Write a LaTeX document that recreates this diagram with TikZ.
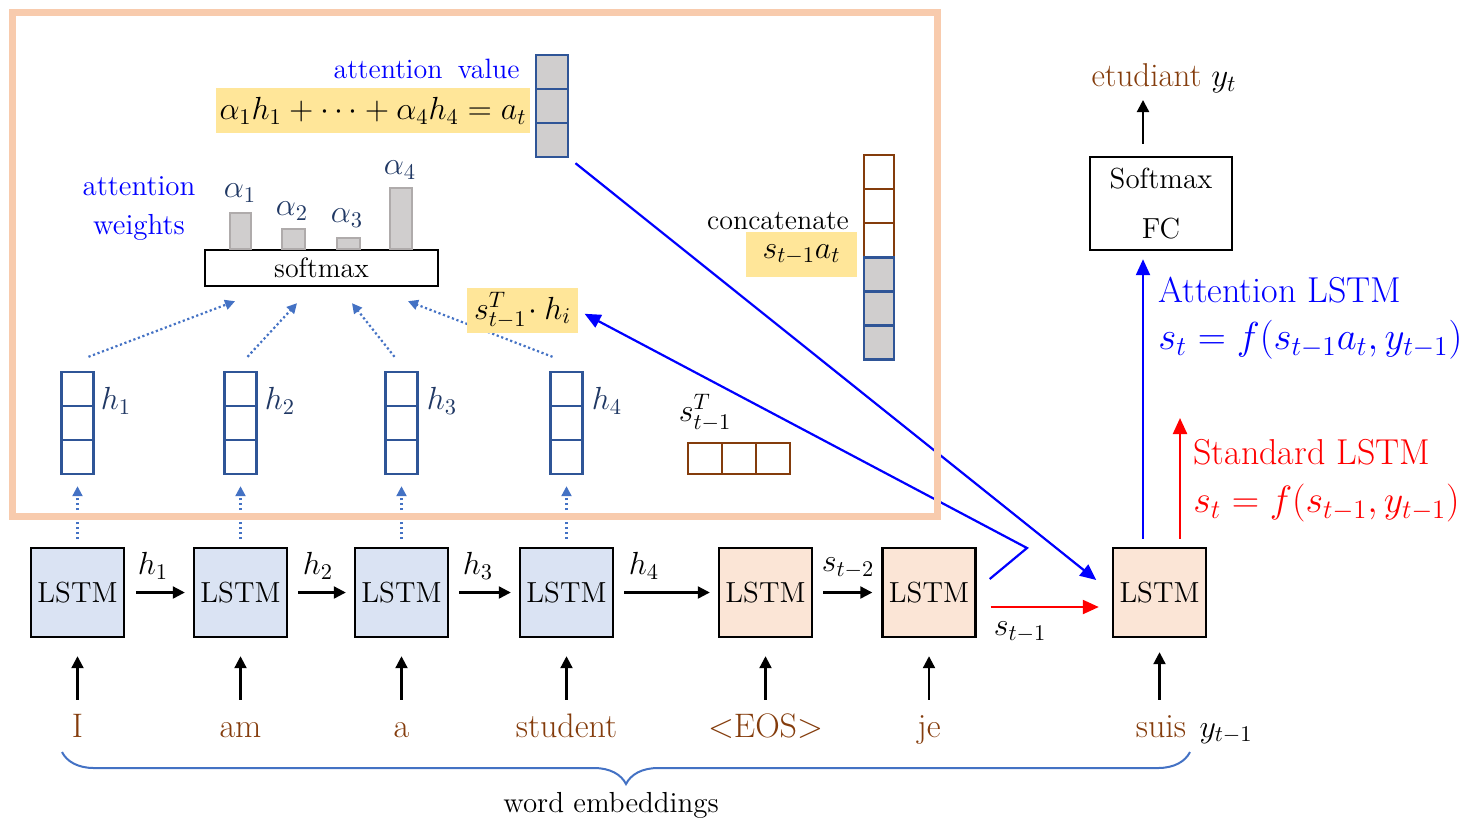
\documentclass[tikz,border=0pt]{standalone}
\usepackage{fix-cm}
\usetikzlibrary{arrows.meta,calc,decorations.pathreplacing}
\definecolor{vblue}{HTML}{2F5597}
\definecolor{dblue}{HTML}{4472C4}
\definecolor{brn}{HTML}{843C0C}
\definecolor{peach}{HTML}{F8CBAD}
\definecolor{lblue}{HTML}{DAE3F3}
\definecolor{lorange}{HTML}{FBE5D6}
\definecolor{gfill}{HTML}{D0CECE}
\definecolor{gline}{HTML}{AFABAB}
\definecolor{ylw}{HTML}{FFE699}
\definecolor{pblue}{HTML}{0000FF}
\definecolor{pred}{HTML}{FF0000}
\definecolor{navy}{HTML}{203864}
\tikzset{
 lstm/.style={draw=black, line width=1.2pt, minimum width=46.5pt, minimum height=44.5pt, inner sep=0pt, font=\fontsize{14.5}{16}\selectfont},
 enc/.style={lstm, fill=lblue},
 dec/.style={lstm, fill=lorange},
 word/.style={text=brn, font=\fontsize{17}{19}\selectfont, text height=15pt, text depth=4pt, inner ysep=3.5pt, anchor=base},
 mlab/.style={font=\fontsize{16}{18}\selectfont, inner sep=1pt},
 txt/.style={font=\fontsize{14}{16}\selectfont, inner sep=1pt},
 arr/.style={-{Triangle[length=6pt,width=6pt]}, line width=1.1pt},
 dotarr/.style={-{Triangle[length=5pt,width=5pt]}, dblue, line width=1.1pt, dash pattern=on 1.1pt off 1.3pt},
 bluearr/.style={-{Triangle[length=8pt,width=7pt]}, pblue, line width=1.1pt},
 redarr/.style={-{Triangle[length=8pt,width=7pt]}, pred, line width=1.1pt},
 ybox/.style={fill=ylw, inner xsep=1pt, inner ysep=1pt, font=\fontsize{16}{18}\selectfont},
 vvec/.style={draw=#1, line width=1.2pt, minimum width=16pt, minimum height=51pt, inner sep=0pt,
   path picture={\draw[#1, line width=1.2pt]
     ($(path picture bounding box.north west)!1/3!(path picture bounding box.south west)$) -- ($(path picture bounding box.north east)!1/3!(path picture bounding box.south east)$)
     ($(path picture bounding box.north west)!2/3!(path picture bounding box.south west)$) -- ($(path picture bounding box.north east)!2/3!(path picture bounding box.south east)$);}},
 hvec/.style={draw=#1, line width=1.2pt, minimum width=51pt, minimum height=15.5pt, inner sep=0pt,
   path picture={\draw[#1, line width=1.2pt]
     ($(path picture bounding box.north west)!1/3!(path picture bounding box.north east)$) -- ($(path picture bounding box.south west)!1/3!(path picture bounding box.south east)$)
     ($(path picture bounding box.north west)!2/3!(path picture bounding box.north east)$) -- ($(path picture bounding box.south west)!2/3!(path picture bounding box.south east)$);}},
 bar/.style={draw=gline, fill=gfill, line width=1pt},
}
\begin{document}
\begin{tikzpicture}[x=0.5pt,y=-0.5pt]
\useasboundingbox (0,0) rectangle (1475,826);

% LSTM cells
\node[enc] (L1) at (77.5,592.5) {LSTM};
\node[enc] (L2) at (240.5,592.5) {LSTM};
\node[enc] (L3) at (401.5,592.5) {LSTM};
\node[enc] (L4) at (566.5,592.5) {LSTM};
\node[dec] (L5) at (765.5,592.5) {LSTM};
\node[dec] (L6) at (929,592.5) {LSTM};
\node[dec] (L7) at (1159.5,592.5) {LSTM};

% words
\node[word] (w1) at (77.5,737) {I};
\node[word] (w2) at (240.5,737) {am};
\node[word] (w3) at (401.5,737) {a};
\node[word] (w4) at (566.5,737) {student};
\node[word] (w5) at (765.5,737) {\textless EOS\textgreater};
\node[word] (w6) at (929,737) {je};
\node[word] (w7) at (1161,737) {suis};
\node[mlab, anchor=base west] (ytm) at ([xshift=2pt]w7.base east) {$y_{t-1}$};

\foreach \w/\l in {w1/L1,w2/L2,w3/L3,w4/L4,w5/L5,w6/L6}
  \draw[arr, shorten >=9pt] (\w) -- (\l);
\draw[arr, shorten >=7pt] (w7.north -| L7.south) -- (L7.south);

% horizontal recurrences
\draw[arr, shorten <=5.5pt, shorten >=4pt] (L1) -- (L2);
\draw[arr, shorten <=5pt, shorten >=4pt] (L2) -- (L3);
\draw[arr, shorten <=5pt, shorten >=4pt] (L3) -- (L4);
\draw[arr, shorten <=5pt, shorten >=4pt] (L4) -- (L5);
\draw[arr, shorten <=5pt, shorten >=4.5pt] (L5) -- (L6);
\node[mlab] (lh1) at (153,566) {$h_1$};
\node[mlab] (lh2) at (318,566) {$h_2$};
\node[mlab] (lh3) at (478,566) {$h_3$};
\node[mlab] (lh4) at (644,566) {$h_4$};
\node[mlab] (lst2) at (848,568) {$s_{t-2}$};
\draw[redarr, shorten <=7pt, shorten >=6.5pt] ([yshift=-7.25pt]L6.east) -- ([yshift=-7.25pt]L7.west);
\node[mlab] (lst1) at (1020,632) {$s_{t-1}$};

% brace
\coordinate (bl) at (62,752);
\coordinate (br) at (1190,752);
\draw[dblue, line width=1pt, decorate, decoration={brace, mirror, amplitude=16pt, aspect=0.5}] (bl) -- (br);
\node[font=\fontsize{14.5}{16}\selectfont] (we) at (611,805) {word embeddings};

% hidden vectors
\node[vvec=vblue] (hv1) at (77.5,423) {};
\node[vvec=vblue] (hv2) at (240.5,423) {};
\node[vvec=vblue] (hv3) at (401.5,423) {};
\node[vvec=vblue] (hv4) at (566.5,423) {};
\node[mlab, text=navy] (hl1) at (116,401) {$h_1$};
\node[mlab, text=navy] (hl2) at (280,401) {$h_2$};
\node[mlab, text=navy] (hl3) at (442,401) {$h_3$};
\node[mlab, text=navy] (hl4) at (607,401) {$h_4$};
\foreach \i in {1,2,3,4}
  \draw[dotarr, shorten <=4pt, shorten >=5.5pt] (L\i) -- (hv\i);

% softmax and weights
\node[draw, line width=1.2pt, minimum width=116.5pt, minimum height=18pt, inner sep=0pt, font=\fontsize{14}{16}\selectfont] (sm) at (321.5,268) {softmax};
\draw[dotarr] ([shift={(5.5pt,7pt)}]hv1.north) -- ([shift={(-43.25pt,-7pt)}]sm.south);
\draw[dotarr] ([shift={(3.5pt,7pt)}]hv2.north) -- ([shift={(-12.25pt,-8pt)}]sm.south);
\draw[dotarr] ([shift={(-3.5pt,7pt)}]hv3.north) -- ([shift={(15.25pt,-8pt)}]sm.south);
\draw[dotarr] ([shift={(-7pt,7pt)}]hv4.north) -- ([shift={(43.25pt,-7pt)}]sm.south);

\draw[bar] (230,249) rectangle (251,213);
\draw[bar] (282,249) rectangle (305,229);
\draw[bar] (337,249) rectangle (360,238);
\draw[bar] (390,249) rectangle (412,188);
\node[mlab, text=navy] (a1) at (240,193) {$\alpha_1$};
\node[mlab, text=navy] (a2) at (292,211) {$\alpha_2$};
\node[mlab, text=navy] (a3) at (347,218) {$\alpha_3$};
\node[mlab, text=navy] (a4) at (400,170) {$\alpha_4$};
\node[align=center, text=pblue, font=\fontsize{14.5}{19.5}\selectfont] (aw) at (139,208) {attention\\weights};

% attention value
\node[txt, text=pblue, anchor=base east] (avl) at (522,78) {attention\hspace{0.55em}value};
\node[ybox, minimum width=157pt, minimum height=22.5pt] (form) at (373,110.5) {$\alpha_1 h_1 + \cdots + \alpha_4 h_4 = a_t$};
\node[vvec=vblue, fill=gfill] (av) at (552,106) {};

% score
\node[ybox, minimum width=55.5pt, minimum height=22.5pt] (dot) at (522.5,310.5) {$s_{t-1}^T\!\cdot h_i$};

% concatenate
\node[txt] (cattxt) at (778,221) {concatenate};
\node[ybox, minimum width=55.5pt, minimum height=22.5pt] (cat) at (801.5,254.5) {$s_{t-1}a_t$};
\node[vvec=brn, fill=white, minimum width=15pt] (ctop) at (879,206) {};
\node[vvec=vblue, fill=gfill, minimum width=15pt] (cbot) at (879,308.5) {};

% previous state
\node[mlab] (stl) at (705,413) {$s_{t-1}^T$};
\node[hvec=brn] (sv) at (739,458.5) {};

% blue attention connectors
\coordinate (kink) at (1027,548);
\draw[bluearr, shorten >=3.5pt] ([shift={(6.5pt,6.75pt)}]L6.east) -- (kink) -- (dot.east);
\draw[bluearr, shorten <=4pt, shorten >=10pt] (av.south east) -- (L7.west);

% output side
\node[draw, line width=1.2pt, minimum width=71pt, minimum height=46.5pt, align=center, font=\fontsize{14.5}{25}\selectfont] (fc) at (1161,203.5) {Softmax\\FC};
\draw[bluearr, shorten <=4pt, shorten >=4pt] ($(L7.north)+(-8.25pt,0)$) -- ($(L7.north |- fc.south)+(-8.25pt,0)$);
\coordinate (redtip) at (1180,418);
\draw[redarr, shorten <=4pt] ($(L7.north)+(10.25pt,0)$) -- (redtip);
\coordinate (outtip) at (1143,100);
\draw[arr, shorten <=6pt] ($(fc.north)+(-9pt,0)$) -- (outtip);
\node[font=\fontsize{16.5}{18}\selectfont] (etud) at (1164,78) {\textcolor{brn}{etudiant} $y_t$};

\node[anchor=west, text=pblue, font=\fontsize{18}{20}\selectfont, inner sep=0pt] (attl) at (1158,290) {Attention LSTM};
\node[anchor=west, text=pblue, font=\fontsize{19.5}{21}\selectfont, inner sep=0pt] (atteq) at (1158,340) {$s_t = f(s_{t-1}a_t, y_{t-1})$};
\node[anchor=west, text=pred, font=\fontsize{18}{20}\selectfont, inner sep=0pt] (stdl) at (1193,452) {Standard LSTM};
\node[anchor=west, text=pred, font=\fontsize{19}{21}\selectfont, inner sep=0pt] (stdeq) at (1193,503) {$s_t = f(s_{t-1}, y_{t-1})$};

% attention frame (drawn last, over crossing lines)
\draw[peach, line width=3.5pt] (12,12) rectangle (937,516);
\end{tikzpicture}
\end{document}
